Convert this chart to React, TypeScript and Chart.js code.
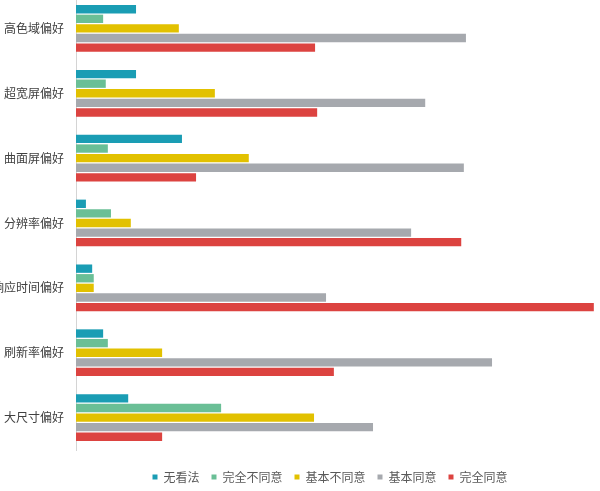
import React, { useEffect, useRef } from "react";
import { Chart, registerables } from "chart.js";

Chart.register(...registerables);

const categories = ["高色域偏好", "超宽屏偏好", "曲面屏偏好", "分辨率偏好", "响应时间偏好", "刷新率偏好", "大尺寸偏好"];
const seriesNames = ["无看法", "完全不同意", "基本不同意", "基本同意", "完全同意"];
const noOpinion = [11.5, 11.5, 20.3, 1.9, 3.1, 5.2, 10.0];
const stronglyDisagree = [5.2, 5.7, 6.1, 6.7, 3.4, 6.1, 27.8];
const somewhatDisagree = [19.7, 26.6, 33.1, 10.5, 3.4, 16.5, 45.6];
const somewhatAgree = [74.7, 66.9, 74.3, 64.2, 47.9, 79.7, 56.9];
const stronglyAgree = [45.8, 46.2, 23.0, 73.8, 99.2, 49.4, 16.5];
const colors = ["#1a9db4", "#6abf96", "#e2c100", "#a6a9ae", "#dc4340"];

const legendShift = {
  id: "legendShift",
  afterLayout(chart: any) {
    if (chart.legend) {
      chart.legend.left = 62;
      chart.legend.top = chart.chartArea.bottom + 9;
    }
  },
};

export default function App() {
  const ref = useRef<HTMLCanvasElement | null>(null);
  useEffect(() => {
    document.body.style.margin = "0";
    const values = [noOpinion, stronglyDisagree, somewhatDisagree, somewhatAgree, stronglyAgree];
    const font = "'Noto Sans CJK SC', 'Microsoft YaHei', sans-serif";
    const chart = new Chart(ref.current as HTMLCanvasElement, {
      type: "bar",
      data: {
        labels: categories,
        datasets: seriesNames.map((name, i) => ({
          label: name,
          data: values[i],
          backgroundColor: colors[i],
          borderWidth: 0,
          categoryPercentage: 0.74,
          barPercentage: 0.87,
        })),
      },
      options: {
        indexAxis: "y",
        animation: false,
        responsive: false,
        maintainAspectRatio: false,
        layout: { padding: { top: 1, right: 2, left: 0, bottom: 7 } },
        scales: {
          x: { display: false, min: 0, max: 100 },
          y: {
            grid: { display: false, drawTicks: false },
            border: { display: true, color: "#d4d4d4", width: 1 },
            ticks: { color: "#404040", font: { family: font, size: 12 }, padding: 12 },
            afterFit: (scale: any) => {
              scale.width = 76;
              scale.paddingTop = 0;
              scale.paddingBottom = 0;
            },
          },
        },
        plugins: {
          legend: {
            position: "bottom",
            labels: {
              boxWidth: 5,
              boxHeight: 5,
              padding: 12,
              color: "#595959",
              font: { family: font, size: 12 },
            },
          },
          tooltip: { enabled: false },
        },
      },
      plugins: [legendShift],
    });
    return () => chart.destroy();
  }, []);
  return (
    <div style={{ position: "absolute", left: 0, top: 0, width: 600, height: 491, overflow: "hidden", background: "#fff" }}>
      <canvas ref={ref} width={600} height={496} style={{ position: "absolute", left: 0, top: -5, width: 600, height: 496 }} />
    </div>
  );
}
